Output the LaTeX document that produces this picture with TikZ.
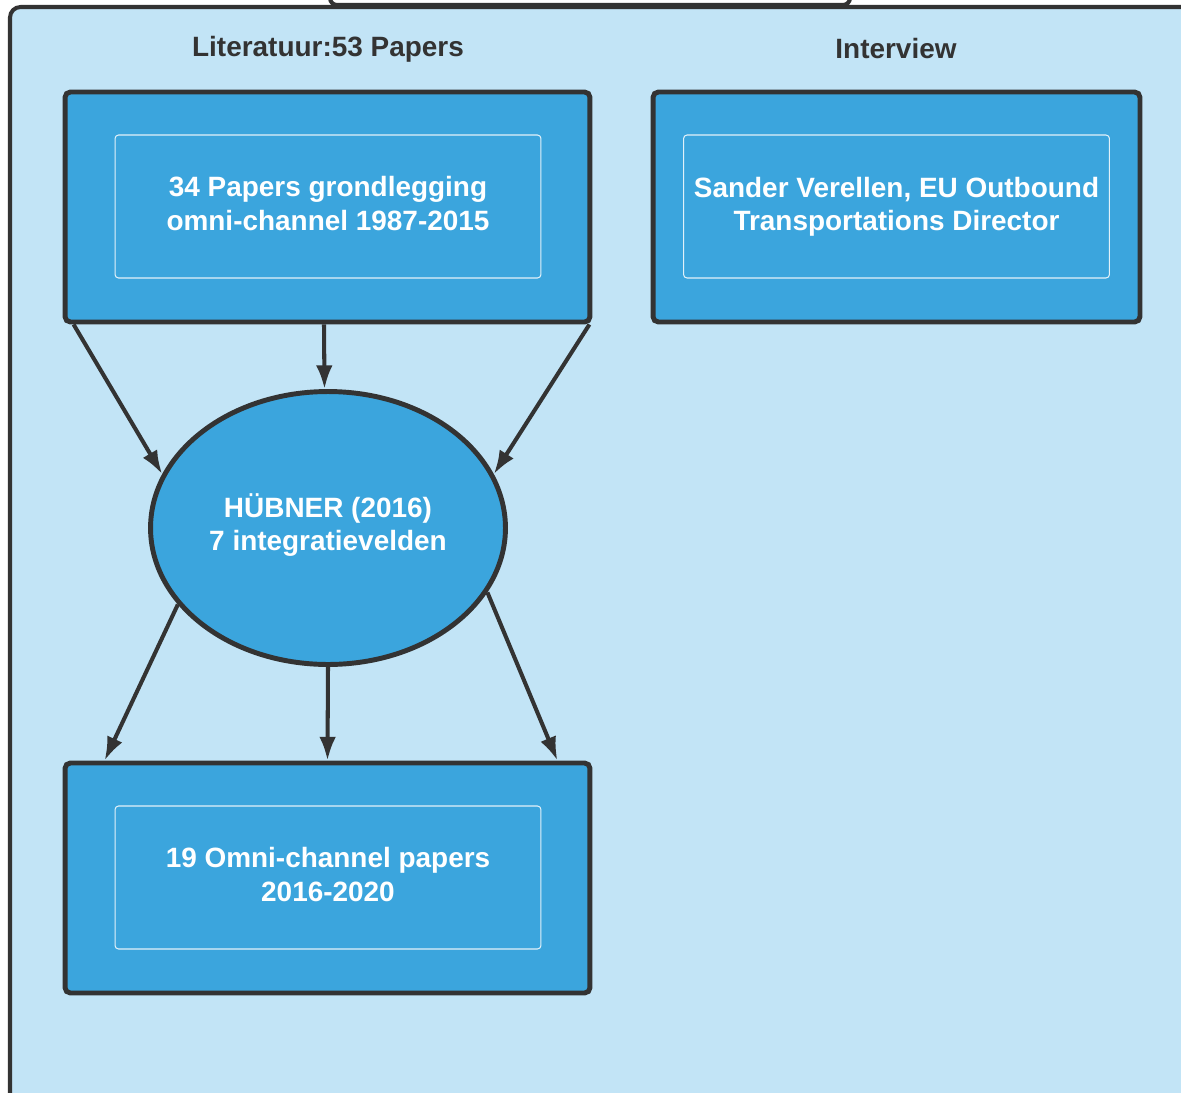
\documentclass[tikz,border=0pt]{standalone}
\usepackage{fontspec}
\setmainfont{Liberation Sans}
\usepackage{xcolor}
\usetikzlibrary{shapes.geometric}
\usetikzlibrary{arrows.meta}
\usetikzlibrary{positioning}

\definecolor{panelblue}{HTML}{C2E4F6}
\definecolor{boxblue}{HTML}{3BA5DD}
\definecolor{darkline}{HTML}{333333}

\begin{document}
\begin{tikzpicture}[x=0.02cm,y=-0.02cm,
	every path/.style={>={Latex[length=13.5pt,width=9.5pt]}},
	outerbox/.style={rectangle,draw=darkline,fill=boxblue,line width=2.8pt,rounded corners=3pt,minimum width=10.5cm,minimum height=4.6cm},
	innerbox/.style={rectangle,draw=white,draw opacity=0.85,line width=0.6pt,rounded corners=2pt,minimum width=8.52cm,minimum height=2.86cm,inner sep=0pt},
	boxtext/.style={text=white,align=center,font=\bfseries\fontsize{15.9}{18.8}\selectfont},
	heading/.style={text=darkline,font=\bfseries\fontsize{15.9}{18.8}\selectfont},
	arr/.style={->,draw=darkline,line width=2.3pt}]
		\useasboundingbox (0,0) rectangle (1181,1093);
		\clip (0,0) rectangle (1181,1093);
		\fill[white] (0,0) rectangle (1181,1093);
		
		% draw background panel and the box above it
		\draw[fill=panelblue,draw=darkline,line width=2.3pt,rounded corners=6pt] (10,7) rectangle (1260,1160);
		\draw[fill=white,draw=darkline,line width=2.3pt,rounded corners=4pt] (330,-40) rectangle (850,5);
		
		% headings
		\node[heading] (lithead) at (328,49) {Literatuur:53 Papers};
		\node[heading] (inthead) at (896,49) {Interview};
		
		% draw top left box
		\node[outerbox] (found) at (327.5,207) {};
		\node[innerbox] (foundin) at (328,206.5) {};
		\node[boxtext] (foundtxt) at (328,203.5) {34 Papers grondlegging\\omni-channel 1987-2015};
		
		% draw top right box
		\node[outerbox,minimum width=9.74cm] (inter) at (896.5,207) {};
		\node[innerbox] (interin) at (896.5,206.5) {};
		\node[boxtext] (intertxt) at (896.5,206.5) {Sander Verellen, EU Outbound\\Transportations Director};
		
		% draw ellipse
		\node[ellipse,draw=darkline,fill=boxblue,line width=2.8pt,minimum width=7.1cm,minimum height=5.46cm,inner sep=0pt] (hub) at (328,528) {};
		\node[boxtext] (hubtxt) at (328,525) {H\"UBNER (2016)\\7 integratievelden};
		
		% draw bottom box
		\node[outerbox] (omni) at (327.5,878) {};
		\node[innerbox] (omniin) at (328,877.5) {};
		\node[boxtext] (omnitxt) at (328,874.5) {19 Omni-channel papers\\2016-2020};
		
		% arrows from top box to ellipse
		\draw[arr] ([xshift=0.22cm]found.south west) -- (hub.162);
		\draw[arr] ([xshift=-0.07cm]found.south) -- ([xshift=-0.07cm]hub.north);
		\draw[arr] ([xshift=-0.06cm]found.south east) -- (hub.18);
		
		% arrows from ellipse to bottom box
		\draw[arr] (hub.207) -- ([xshift=0.84cm]omni.north west);
		\draw[arr] (hub.south) -- (omni.north);
		\draw[arr] (hub.338) -- ([xshift=-0.7cm]omni.north east);
\end{tikzpicture}
\end{document}
